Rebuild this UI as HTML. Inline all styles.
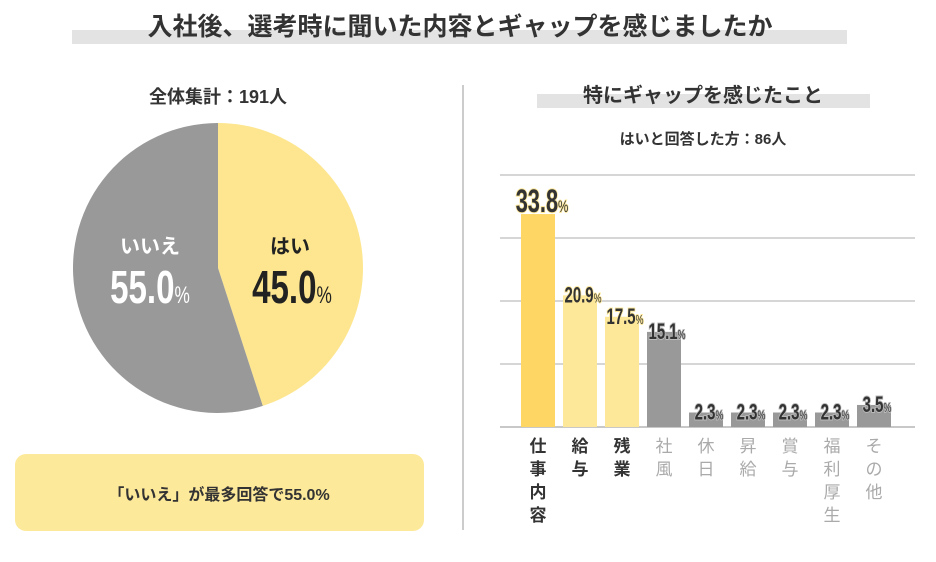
<!DOCTYPE html>
<html><head><meta charset="utf-8">
<style>
body{margin:0;background:#fff;width:936px;height:557px;overflow:hidden;font-family:"Liberation Sans","Noto Sans CJK JP",sans-serif}
svg text{font-family:"Liberation Sans","Noto Sans CJK JP",sans-serif}
.num{font-family:"Liberation Sans Narrow","Liberation Sans",sans-serif;font-weight:bold}
</style></head><body>
<svg width="936" height="557" viewBox="0 0 936 557">
<rect x="72" y="30" width="775" height="14" fill="#e3e3e3"/>
<text x="460" y="35" text-anchor="middle" font-size="25" font-weight="bold" fill="#333">入社後、選考時に聞いた内容とギャップを感じましたか</text>
<text x="218" y="103" text-anchor="middle" font-size="18" font-weight="bold" fill="#333">全体集計：191人</text>
<line x1="463" y1="85" x2="463" y2="530" stroke="#ccc" stroke-width="2"/>
<g id="pie"></g>
<text x="150" y="253" text-anchor="middle" font-size="20" font-weight="bold" fill="#fff">いいえ</text>
<g transform="translate(150,303) scale(0.72,1)"><text x="0" y="0" text-anchor="middle" class="num" font-size="46" fill="#fff">55.0<tspan font-size="24" font-weight="normal">%</tspan></text></g>
<text x="290" y="253" text-anchor="middle" font-size="20" font-weight="bold" fill="#222">はい</text>
<g transform="translate(292,303) scale(0.72,1)"><text x="0" y="0" text-anchor="middle" class="num" font-size="46" fill="#222">45.0<tspan font-size="24" font-weight="normal">%</tspan></text></g>
<rect x="15" y="454" width="409" height="77" rx="11" fill="#fde99a"/>
<text x="219" y="500" text-anchor="middle" font-size="16" font-weight="bold" fill="#333">「いいえ」が最多回答で55.0%</text>
<rect x="537" y="94" width="333" height="14" fill="#e3e3e3"/>
<text x="703" y="102" text-anchor="middle" font-size="20" font-weight="bold" fill="#333">特にギャップを感じたこと</text>
<text x="703" y="144" text-anchor="middle" font-size="15" font-weight="bold" fill="#333">はいと回答した方：86人</text>
<g id="bars"></g>
</svg>
<script>
const pieLabels=["はい","いいえ"];
const pieValues=[45.0,55.0];
const categories=["仕事内容","給与","残業","社風","休日","昇給","賞与","福利厚生","その他"];
const values=[33.8,20.9,17.5,15.1,2.3,2.3,2.3,2.3,3.5];
const ticks=[0,10,20,30,40];

const NS="http://www.w3.org/2000/svg";
function mk(t,a,p){const e=document.createElementNS(NS,t);for(const k in a)e.setAttribute(k,a[k]);p.appendChild(e);return e;}
// pie
const pie=document.getElementById('pie');
const cx=218,cy=268,r=145;
const pieColors=["#fde68f","#999999"];
let tot=pieValues.reduce((a,b)=>a+b,0),ang=0;
pieValues.forEach((v,i)=>{
  const a0=ang,a1=ang+v/tot*2*Math.PI;ang=a1;
  const x0=cx+r*Math.sin(a0),y0=cy-r*Math.cos(a0),x1=cx+r*Math.sin(a1),y1=cy-r*Math.cos(a1);
  const p=mk('path',{d:`M${cx},${cy}L${x0},${y0}A${r},${r} 0 ${a1-a0>Math.PI?1:0} 1 ${x1},${y1}Z`,fill:pieColors[i]},pie);
  
  
});
// bars
const g=document.getElementById('bars');
const base=427,top0=175,xL=500,xR=915,vmax=40;
const y=v=>base-(v/vmax)*(base-top0);
const bx=i=>521+i*42,bw=34;
ticks.forEach(t=>{
  const l=mk('line',{x1:xL,x2:xR,y1:y(t),y2:y(t),stroke:'#c8c8c8','stroke-width':t===0?2:1.5},g);
  
  
});
const cols=["#fdd663","#fde89a","#fde89a"];
values.forEach((v,i)=>{
  const c=i<3?cols[i]:"#999999";
  const b=mk('rect',{x:bx(i),y:y(v),width:bw,height:base-y(v),fill:c},g);
  
  
  const big=i===0;
  const wrap=mk('g',{transform:`translate(${bx(i)+bw/2+(big?4:3)},${y(v)+(big?-2:7)}) scale(0.68,1)`},g);
  const t=mk('text',{x:0,y:0,'text-anchor':'middle','class':'num','font-size':big?32:22,fill:'#333',stroke:i<3?'#fde89a':'#bbb','stroke-width':2,'paint-order':'stroke'},wrap);
  t.textContent=v.toFixed(1);
  const ts=mk('tspan',{'font-size':big?17:13,'font-weight':'normal'},t);ts.textContent='%';
  
  
  const lab=mk('text',{'font-size':17,fill:i<3?'#333':'#aaa','font-weight':i<3?'bold':'normal','text-anchor':'middle'},g);
  
  
  [...categories[i]].forEach((ch,k)=>{const s=mk('tspan',{x:bx(i)+bw/2,y:452+k*23},lab);s.textContent=ch;});
});
</script>
</body></html>
